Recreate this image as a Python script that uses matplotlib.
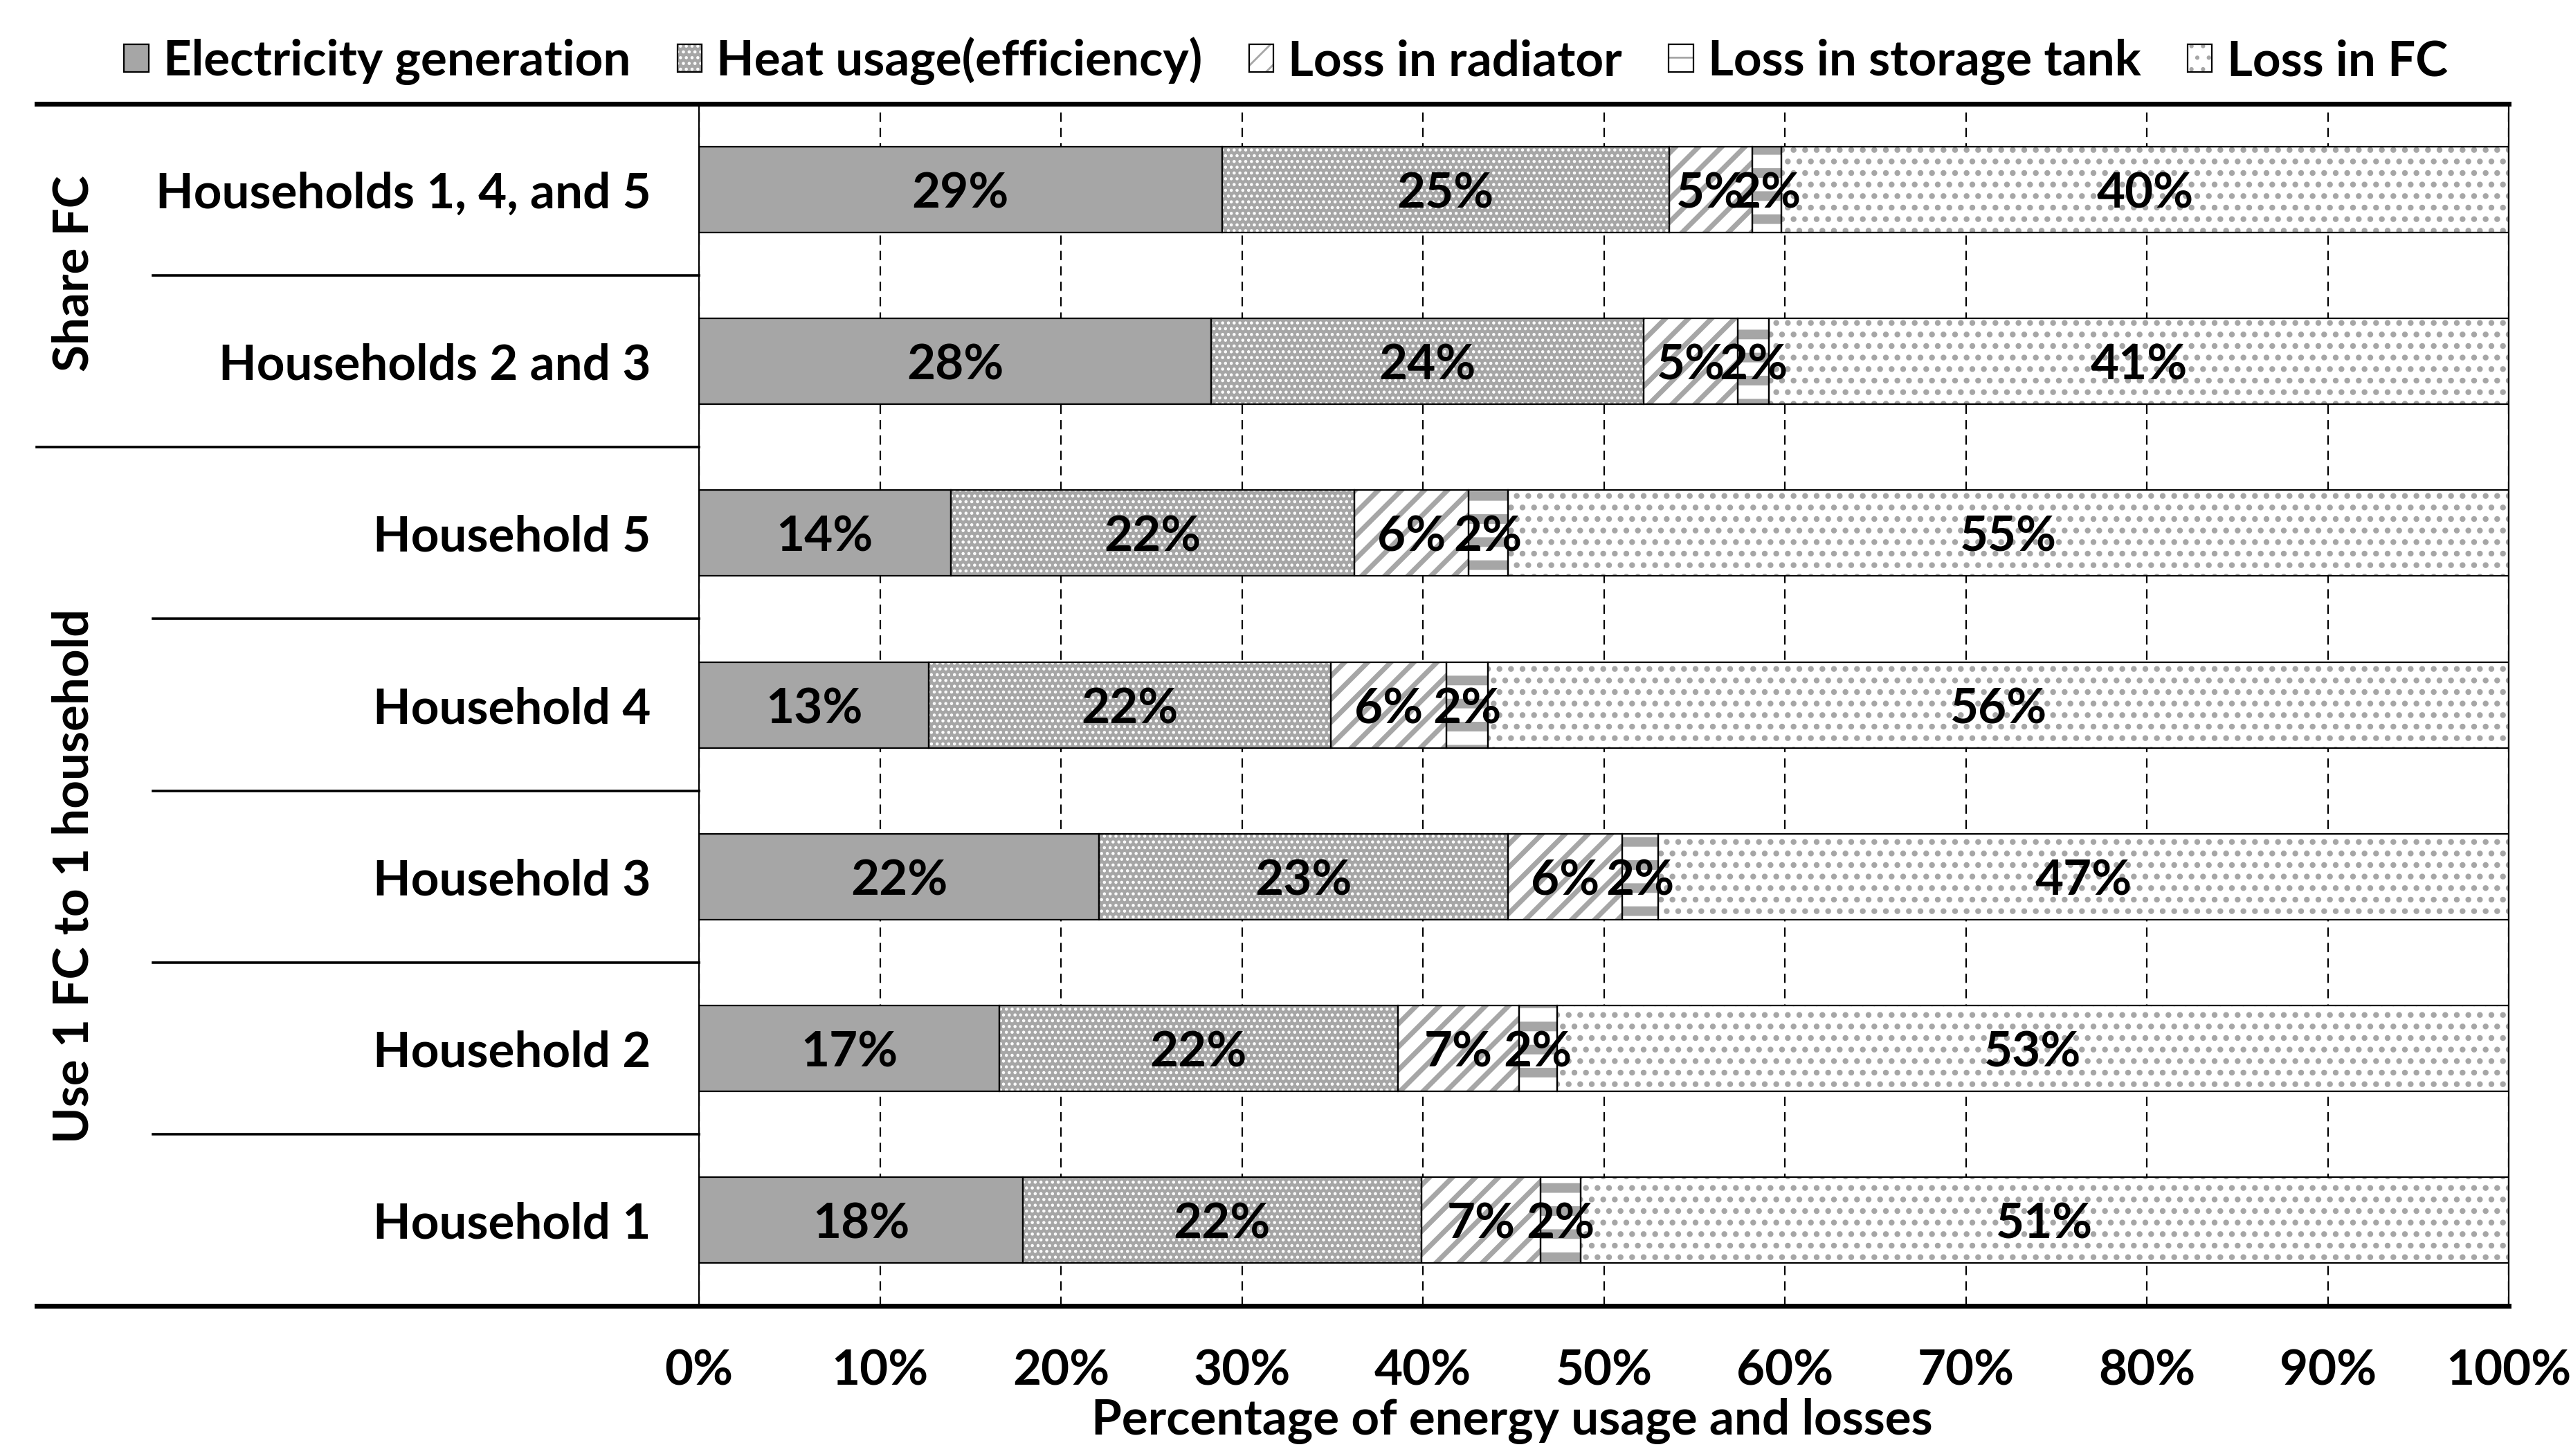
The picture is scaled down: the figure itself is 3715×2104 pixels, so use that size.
import matplotlib
matplotlib.use('Agg')
import matplotlib.pyplot as plt
from matplotlib.patches import Patch

plt.rcParams['font.family'] = ['Liberation Sans Narrow', 'Lato', 'DejaVu Sans']
plt.rcParams['font.weight'] = 'bold'

categories = ['Households 1, 4, and 5', 'Households 2 and 3', 'Household 5',
              'Household 4', 'Household 3', 'Household 2', 'Household 1']
groups = ['Share FC', 'Use 1 FC to 1 household']
series = ['Electricity generation', 'Heat usage(efficiency)', 'Loss in radiator',
          'Loss in storage tank', 'Loss in FC']

electricity = [28.9, 28.3, 13.9, 12.7, 22.1, 16.6, 17.9]
heat = [24.7, 23.9, 22.3, 22.2, 22.6, 22.0, 22.0]
radiator = [4.6, 5.2, 6.3, 6.4, 6.3, 6.7, 6.6]
tank = [1.6, 1.7, 2.2, 2.3, 2.0, 2.1, 2.2]
fc_loss = [40.2, 40.9, 55.3, 56.4, 47.0, 52.6, 51.3]
xticks = list(range(0, 101, 10))

FS = 25.5
gray = '#a6a6a6'
# face colour, hatch, hatch colour, hatch linewidth
styles = [
    (gray, None, gray, 1.0),
    (gray, '....', 'white', 1.0),
    ('white', '//', gray, 2.6),
    ('white', '-', gray, 5.0),
    ('white', '..', gray, 1.8),
]

fig = plt.figure(figsize=(18.58, 10.52), dpi=200)
ax = fig.add_axes([0.2718, 0.1031, 0.7038, 0.8256])

y = list(range(len(categories)))
left = [0.0] * len(categories)
handles = []
for vals, name, (face, hatch, hc, hlw) in zip([electricity, heat, radiator, tank, fc_loss], series, styles):
    with plt.rc_context({'hatch.linewidth': hlw}):
        bars = ax.barh(y, vals, left=left, height=0.5, color=face, edgecolor=hc,
                       hatch=hatch, linewidth=0, zorder=2)
        h1 = Patch(facecolor=face, edgecolor=hc, hatch=hatch, linewidth=0)
    for p in list(bars) + [h1]:
        if hasattr(p, 'set_hatch_linewidth'):
            p.set_hatch_linewidth(hlw)
    ax.barh(y, vals, left=left, height=0.5, fill=False, edgecolor='black',
            linewidth=0.8, zorder=3)
    for yi, v, l in zip(y, vals, left):
        ax.text(l + v / 2, yi, f'{v:.0f}%', ha='center', va='center_baseline',
                fontsize=FS, zorder=4)
    left = [a + b for a, b in zip(left, vals)]
    handles.append((h1, Patch(fill=False, edgecolor='black', linewidth=0.8)))

ax.set_xlim(0, 100)
ax.set_ylim(6.5, -0.5)
ax.set_xticks(xticks)
ax.set_xticklabels([f'{t}%' for t in xticks], fontsize=FS)
ax.set_yticks(y)
ax.set_yticklabels(categories, fontsize=FS)
ax.tick_params(axis='x', length=0, pad=22)
ax.tick_params(axis='y', length=0, pad=25)
ax.xaxis.grid(True, linestyle=(0, (6, 4)), color='black', linewidth=0.8)
ax.set_axisbelow(True)
for s in ['top', 'bottom']:
    ax.spines[s].set_visible(False)
for s in ['left', 'right']:
    ax.spines[s].set_linewidth(0.8)

# table-style rules on the label side
tr = ax.get_yaxis_transform()
for yy in [-0.5, 6.5]:
    ax.plot([-0.366, 1], [yy, yy], transform=tr, clip_on=False, color='black', lw=2.5)
ax.plot([-0.366, 0], [1.5, 1.5], transform=tr, clip_on=False, color='black', lw=1.3)
for yy in [0.5, 2.5, 3.5, 4.5, 5.5]:
    ax.plot([-0.3015, 0], [yy, yy], transform=tr, clip_on=False, color='black', lw=1.3)

fig.text(0.0288, 0.812, groups[0], rotation=90, ha='center', va='center', fontsize=FS)
fig.text(0.0288, 0.3986, groups[1], rotation=90, ha='center', va='center', fontsize=FS)
fig.text(0.588, 0.0238, 'Percentage of energy usage and losses', ha='center', va='center', fontsize=FS)

fig.legend(handles, series, loc='center', bbox_to_anchor=(0.5, 0.958), ncol=5,
           frameon=False, handlelength=0.5, handleheight=0.5, handletextpad=0.3,
           columnspacing=0.95, fontsize=FS)

fig.savefig('out.png', dpi=200)
